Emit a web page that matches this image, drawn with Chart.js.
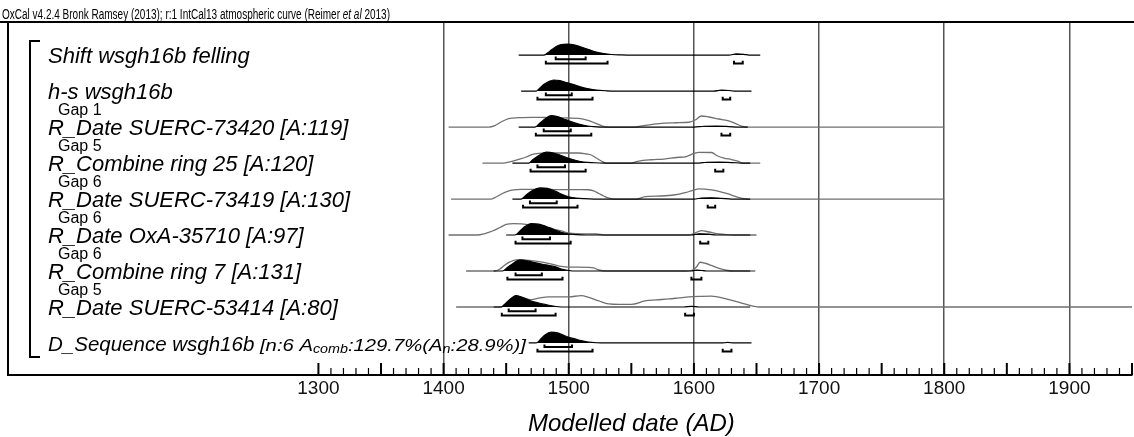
<!DOCTYPE html>
<html>
<head>
<meta charset="utf-8">
<script src="https://cdn.jsdelivr.net/npm/chart.js@4.4.1/dist/chart.umd.min.js"></script>
<style>
  html, body { margin: 0; padding: 0; background: #fff; }
</style>
</head>
<body>
<canvas id="chart" width="1134" height="437"></canvas>
<script>
// row labels, top to bottom
const rowLabels = [
  'Shift wsgh16b felling',
  'h-s wsgh16b',
  'R_Date SUERC-73420 [A:119]',
  'R_Combine ring 25 [A:120]',
  'R_Date SUERC-73419 [A:130]',
  'R_Date OxA-35710 [A:97]',
  'R_Combine ring 7 [A:131]',
  'R_Date SUERC-53414 [A:80]',
  'D_Sequence wsgh16b'
];
const gapLabels = [null, null, 'Gap 1', 'Gap 5', 'Gap 6', 'Gap 6', 'Gap 6', 'Gap 5', null];
const seqStats = ['[n:6 A', 'comb', ':129.7%(A', 'n', ':28.9%)]'];
const tickLabels = [1300, 1400, 1500, 1600, 1700, 1800, 1900];

// [year AD, relative probability]
const shiftPost = [[1460,0],[1480,0],[1483,2],[1486,5],[1490,8.5],[1494,10.5],[1499,11],[1505,10],[1510,8],[1516,5.5],[1522,3],[1528,1.5],[1534,0.6],[1542,0.2],[1550,0],[1628,0],[1634,1.2],[1640,0.8],[1644,0],[1653,0]];
const hsPost = [[1462,0],[1474,0],[1477,3],[1480,6.5],[1484,9.5],[1488,11],[1493,10.3],[1498,8.5],[1504,6.5],[1510,4],[1516,2.2],[1522,1],[1530,0.3],[1538,0],[1616,0],[1622,1],[1628,0.6],[1632,0],[1646,0]];
const s73420Post = [[1460,0],[1473,0],[1477,4],[1481,8],[1486,11.3],[1491,10.3],[1496,8],[1500,6.3],[1504,4.5],[1508,3],[1514,1.3],[1520,0.5],[1528,0],[1600,0],[1608,0.8],[1618,1],[1628,0.5],[1635,0],[1643,0]];
const s73420Prior = [[1404,0],[1436,0],[1441,1.5],[1446,5],[1452,8.5],[1460,9.3],[1470,9.7],[1480,9.5],[1490,9.2],[1500,9],[1508,8.7],[1516,6.5],[1522,3.5],[1527,1],[1532,0],[1552,0],[1560,1.5],[1568,3],[1576,4],[1586,4.3],[1596,4.8],[1601,7],[1606,11],[1612,10],[1620,8],[1627,6.3],[1633,3.7],[1638,1],[1644,0],[1800,0]];
const ring25Post = [[1455,0],[1468,0],[1471,3],[1476,7.5],[1482,10.8],[1488,10],[1494,7.5],[1500,4.7],[1506,2.5],[1512,1],[1520,0.3],[1528,0],[1604,0],[1610,0.8],[1620,1],[1630,0.5],[1638,0],[1645,0]];
const ring25Prior = [[1431,0],[1448,0],[1452,1],[1460,3.7],[1466,6],[1471,8.5],[1478,9.8],[1486,10],[1494,10],[1502,10],[1508,10],[1514,9],[1518,8],[1522,5],[1526,2],[1530,0],[1550,0],[1556,2],[1566,3.3],[1576,4],[1586,5.5],[1594,6.5],[1600,9.5],[1604,10.7],[1614,10.5],[1619,7],[1624,5],[1630,3.5],[1635,2],[1639,0],[1653,0]];
const s73419Post = [[1455,0],[1462,0],[1466,4],[1471,8.5],[1477,11],[1483,10.5],[1489,8],[1494,5],[1500,2.3],[1506,1],[1512,0.4],[1520,0],[1600,0],[1606,1],[1614,1.3],[1622,0.7],[1630,0],[1645,0]];
const s73419Prior = [[1406,0],[1438,0],[1442,2],[1447,5.5],[1451,7.5],[1456,9],[1462,9.5],[1470,9.5],[1476,9.6],[1484,9.5],[1494,9.3],[1504,9.4],[1510,9.4],[1516,9.2],[1520,8],[1524,5.5],[1528,3],[1532,0.8],[1536,0],[1554,0],[1561,2.3],[1574,3],[1584,4],[1593,6.3],[1599,8.5],[1604,10],[1614,9],[1620,7.5],[1626,5.5],[1631,3.5],[1636,1.3],[1643,0],[1800,0]];
const oxaPost = [[1450,0],[1457,0],[1461,4],[1465,8.5],[1470,11.3],[1476,10.8],[1482,8.5],[1488,5.5],[1494,2.8],[1500,1],[1506,0.3],[1514,0],[1598,0],[1604,1.2],[1612,0.8],[1618,0],[1645,0]];
const oxaPrior = [[1404,0],[1427,0],[1433,1.5],[1439,4],[1445,7.5],[1450,10.5],[1456,11.3],[1462,11],[1470,10],[1478,9],[1486,6.5],[1494,4],[1500,2],[1506,1.3],[1514,1.2],[1522,1],[1530,0],[1596,0],[1600,1.5],[1606,4.3],[1612,3],[1620,1],[1626,0.3],[1632,0],[1650,0]];
const ring7Post = [[1440,0],[1447,0],[1451,3.5],[1456,8],[1461,11],[1467,10],[1474,8],[1482,6],[1489,4.3],[1494,2],[1500,0.5],[1506,0],[1598,0],[1602,1],[1606,0.5],[1610,0],[1645,0]];
const ring7Prior = [[1418,0],[1441,0],[1445,2],[1449,6],[1453,9],[1458,11],[1464,11],[1472,10],[1480,8.5],[1488,6.3],[1494,4.5],[1500,3.8],[1508,3.8],[1516,3.7],[1520,3],[1524,1],[1530,0],[1594,0],[1599,1],[1602,4],[1605,8.7],[1609,7.7],[1614,5.5],[1620,2.7],[1627,0.5],[1632,0],[1649,0]];
const s53414Post = [[1440,0],[1446,0],[1450,4],[1454,8.5],[1458,11.3],[1464,9],[1470,6],[1476,4],[1482,2.3],[1488,0.8],[1494,0],[1592,0],[1598,0.6],[1604,0],[1645,0]];
const s53414Prior = [[1410,0],[1446,0],[1450,4],[1454,8.5],[1458,11],[1464,8.5],[1470,7.3],[1477,9],[1484,10],[1492,10],[1500,10],[1510,11.3],[1516,9.5],[1524,6],[1532,3],[1540,2.5],[1550,2.5],[1561,6],[1570,7],[1580,8],[1588,9],[1596,10],[1606,10.5],[1614,10.7],[1625,8.3],[1635,5],[1642,2.5],[1648,0.7],[1652,0],[1950,0]];
const seqPost = [[1468,0],[1474,0],[1477,3],[1481,8],[1486,10.7],[1491,10],[1496,7.5],[1500,5.7],[1505,4],[1510,2.3],[1516,0.8],[1522,0.2],[1530,0],[1622,0],[1627,0.5],[1632,0],[1646,0]];

const posteriors = [shiftPost, hsPost, s73420Post, ring25Post, s73419Post, oxaPost, ring7Post, s53414Post, seqPost];
const priors = [null, null, s73420Prior, ring25Prior, s73419Prior, oxaPrior, ring7Prior, s53414Prior, null];

// highest posterior density ranges
const range68 = [[[1489.6,1513.5]], [[1481.7,1502.4]], [[1480,1501.6]], [[1475,1497]], [[1469,1490.4]], [[1463,1485]], [[1457.5,1478.5]], [[1452,1473.5]], [[1480.6,1502.6]]];
const range95 = [
  [[1481.7,1531],[1632,1639]],
  [[1475,1519],[1623,1629]],
  [[1473.7,1518],[1622,1629]],
  [[1469.5,1513.5],[1617,1623.5]],
  [[1463.5,1507],[1611,1617]],
  [[1457.5,1501.5],[1605,1611.5]],
  [[1451,1495],[1598,1606]],
  [[1446.5,1489.5],[1593,1600]],
  [[1475,1519],[1623,1630]]
];

const FONT = '"Liberation Sans", Arial, sans-serif';
const hScale = 0.028;   // row units per probability unit
const drop68 = 0.115, drop95 = 0.235, cap = 0.075;

function curve(points, row) {
  return points.map(p => ({ x: p[0], y: row - p[1] * hScale }));
}
function brackets(intervals, row, drop) {
  const pts = [];
  intervals.forEach(([a, b]) => {
    pts.push({ x: a, y: row + drop - cap }, { x: a, y: row + drop }, { x: b, y: row + drop }, { x: b, y: row + drop - cap }, { x: b, y: null });
  });
  return pts;
}

const datasets = [];
posteriors.forEach((post, row) => {
  if (priors[row]) {
    datasets.push({
      data: curve(priors[row], row), borderColor: '#707070', borderWidth: 1.3,
      fill: false, pointRadius: 0, cubicInterpolationMode: 'monotone', order: 2
    });
  }
  datasets.push({
    data: curve(post, row), borderColor: '#000', backgroundColor: '#000', borderWidth: 1.2,
    fill: { value: row }, pointRadius: 0, cubicInterpolationMode: 'monotone', order: 1
  });
  datasets.push({
    data: brackets(range68[row], row, drop68), borderColor: '#000', borderWidth: 2,
    fill: false, pointRadius: 0, spanGaps: false, order: 0
  });
  datasets.push({
    data: brackets(range95[row], row, drop95), borderColor: '#000', borderWidth: 2,
    fill: false, pointRadius: 0, spanGaps: false, order: 0
  });
});

// draw text runs squeezed to a given width
function squeezed(ctx, runs, x0, y0, width) {
  let total = 0;
  runs.forEach(r => { ctx.font = r.font; total += ctx.measureText(r.text).width; });
  ctx.save();
  ctx.translate(x0, y0);
  ctx.scale(width / total, 1);
  let cx = 0;
  runs.forEach(r => { ctx.font = r.font; ctx.fillText(r.text, cx, r.dy || 0); cx += ctx.measureText(r.text).width; });
  ctx.restore();
}

const decor = {
  id: 'decor',
  afterDraw(chart) {
    const { ctx, chartArea, scales: { x, y } } = chart;
    ctx.save();
    ctx.fillStyle = '#000';
    ctx.strokeStyle = '#000';

    // header line and text
    ctx.lineWidth = 2;
    ctx.beginPath(); ctx.moveTo(0, chartArea.top); ctx.lineTo(chart.width, chartArea.top); ctx.stroke();
    squeezed(ctx, [
      { text: 'OxCal v4.2.4 Bronk Ramsey (2013); r:1 IntCal13 atmospheric curve (Reimer ', font: '14px ' + FONT },
      { text: 'et al', font: 'italic 14px ' + FONT },
      { text: ' 2013)', font: '14px ' + FONT }
    ], 2, 19, 388);

    // inward ticks
    x.ticks.forEach(t => {
      const px = x.getPixelForValue(t.value);
      const major = t.value % 50 === 0;
      ctx.lineWidth = major ? 2 : 1.2;
      ctx.beginPath(); ctx.moveTo(px, chartArea.bottom); ctx.lineTo(px, chartArea.bottom - (major ? 12 : 7)); ctx.stroke();
    });

    // sequence bracket
    const top = y.getPixelForValue(0) - 14, bot = y.getPixelForValue(rowLabels.length - 1) + 14;
    ctx.lineWidth = 2;
    ctx.beginPath(); ctx.moveTo(40, top); ctx.lineTo(30, top); ctx.lineTo(30, bot); ctx.lineTo(40, bot); ctx.stroke();

    // row labels
    const last = rowLabels.length - 1;
    rowLabels.forEach((lab, row) => {
      const py = y.getPixelForValue(row);
      ctx.font = 'italic ' + (row === last ? 20.5 : 22) + 'px ' + FONT;
      ctx.fillText(lab, 48, py + 8);
      if (row === last) {
        const lx = 48 + ctx.measureText(lab + ' ').width;
        squeezed(ctx, seqStats.map((s, i) => ({
          text: s, font: 'italic ' + (i % 2 ? 12 : 17) + 'px ' + FONT, dy: i % 2 ? 2 : 0
        })), lx, py + 8, 526 - lx);
      }
      if (gapLabels[row]) {
        ctx.font = '16px ' + FONT;
        ctx.fillText(gapLabels[row], 58, py - 12);
      }
    });

    // axis title
    ctx.font = 'italic 24px ' + FONT;
    ctx.textAlign = 'center';
    ctx.fillText('Modelled date (AD)', x.getPixelForValue(1550), 431);
    ctx.restore();
  }
};

new Chart(document.getElementById('chart'), {
  type: 'line',
  data: { datasets },
  options: {
    responsive: false,
    animation: false,
    layout: { padding: { left: 8, right: 0, top: 22, bottom: 0 } },
    plugins: { legend: { display: false }, tooltip: { enabled: false } },
    scales: {
      x: {
        type: 'linear', min: 1052, max: 1950,
        afterBuildTicks: s => {
          const t = [];
          for (let v = 1300; v <= 1950; v += 10) t.push({ value: v });
          s.ticks = t;
        },
        afterFit: s => { s.height = 62; },
        grid: {
          drawTicks: false, lineWidth: 1.5,
          color: c => (c.tick && c.tick.value % 100 === 0 && c.tick.value >= 1400) ? '#555' : 'rgba(0,0,0,0)'
        },
        border: { color: '#000', width: 2 },
        ticks: {
          autoSkip: false, maxRotation: 0, padding: 2, color: '#111',
          font: { family: FONT, size: 19 },
          callback: v => tickLabels.includes(v) ? String(v) : ''
        }
      },
      y: {
        type: 'linear', reverse: true, min: -0.92, max: 8.89,
        afterFit: s => { s.width = 0; },
        ticks: { display: false },
        grid: { display: false, drawTicks: false },
        border: { display: true, color: '#000', width: 2 }
      }
    }
  },
  plugins: [decor]
});
</script>
</body>
</html>
